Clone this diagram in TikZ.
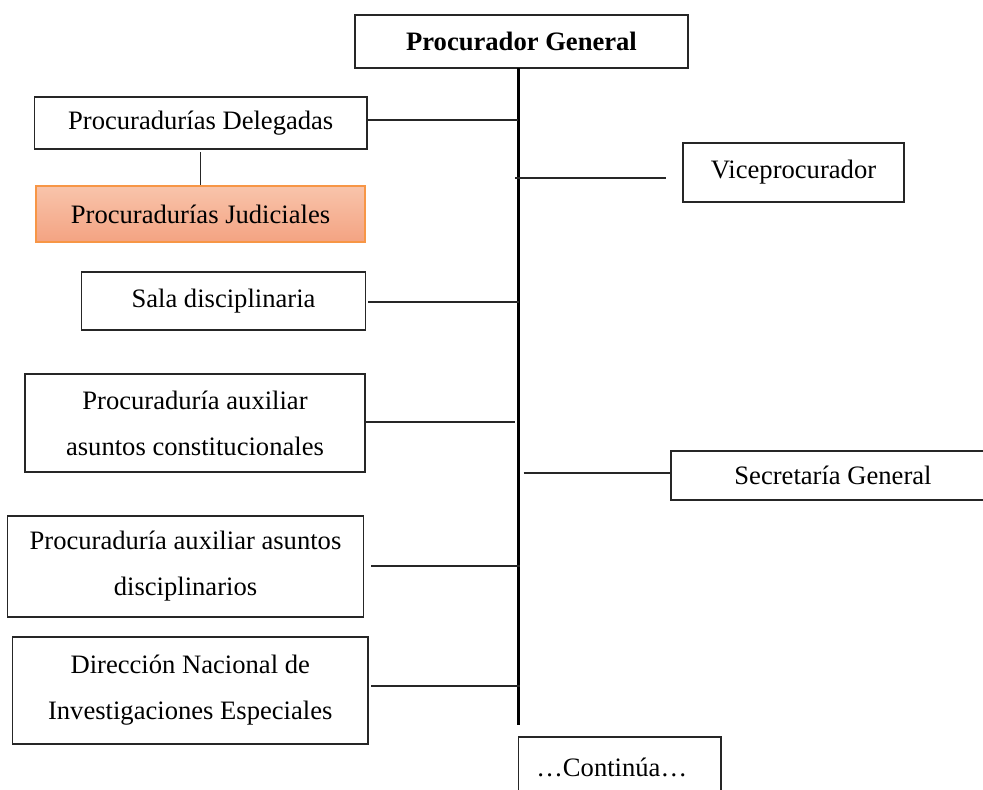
\documentclass[tikz,border=0pt]{standalone}
\usepackage{fontspec}
\setmainfont{Liberation Serif}
\begin{document}
\begin{tikzpicture}[x=1pt,y=-1pt,
  box/.style={draw=black!85,line width=1.2pt,fill=white,inner sep=0pt,align=center,
    font=\fontsize{26.6}{46}\selectfont},
  judbox/.style={box,draw={rgb,255:red,247;green,150;blue,70},top color={rgb,255:red,248;green,196;blue,171},bottom color={rgb,255:red,244;green,163;blue,130}},
  link/.style={line width=1.3pt,black!85},
  spine/.style={line width=2.2pt,black}]
\clip (0,0) rectangle (983,790);
\fill[white] (0,0) rectangle (983,790);

\node[box,minimum width=333pt,minimum height=53pt] (pg) at (521.5,41.5) {\textbf{Procurador General}};
\node[box,minimum width=332.5pt,minimum height=52pt] (del) at (200.75,123) {Procuradurías Delegadas};
\node[judbox,minimum width=329pt,minimum height=56pt] (jud) at (200.5,214) {Procuradurías Judiciales};
\node[box,minimum width=221pt,minimum height=59pt] (vice) at (793.5,172.5) {Viceprocurador};
\node[box,minimum width=284pt,minimum height=58pt] (sala) at (223.5,301) {Sala disciplinaria};
\node[box,minimum width=340pt,minimum height=98pt] (const) at (195,423) {Procuraduría auxiliar\\asuntos constitucionales};
\node[box,minimum width=324pt,minimum height=49pt] (sec) at (833,475.5) {Secretaría General};
\node[box,minimum width=356pt,minimum height=101pt] (disc) at (185.5,566.5) {Procuraduría auxiliar asuntos\\disciplinarios};
\node[box,minimum width=355.5pt,minimum height=107pt] (dir) at (190.25,690.5) {Dirección Nacional de\\Investigaciones Especiales};
\node[box,minimum width=202.5pt,minimum height=60pt,text width=202.5pt] (cont) at (619.75,767) {\hspace*{-16pt}\dots Continúa\dots};

\coordinate (stop) at (518.5,68);
\coordinate (sbot) at (518.5,725);
\draw[spine] (stop) -- (sbot);

\coordinate (delL) at (518,120);
\draw[link] (del.east |- delL) -- (delL);
\coordinate (viceL) at (515,178);
\coordinate (viceR) at (666,178);
\draw[link] (viceL) -- (viceR);
\coordinate (delB) at (200.6,152);
\draw[link,line width=1pt] (delB) -- (jud.north -| delB);
\coordinate (salaL) at (368,302);
\draw[link] (salaL) -- (salaL -| stop);
\coordinate (constL) at (365,422);
\coordinate (constR) at (515,422);
\draw[link] (constL) -- (constR);
\coordinate (secL) at (523.5,473);
\draw[link] (secL) -- (sec.west |- secL);
\coordinate (discL) at (371,566);
\coordinate (discR) at (520,566);
\draw[link] (discL) -- (discR);
\coordinate (dirL) at (371,686);
\coordinate (dirR) at (520,686);
\draw[link] (dirL) -- (dirR);
\end{tikzpicture}
\end{document}
